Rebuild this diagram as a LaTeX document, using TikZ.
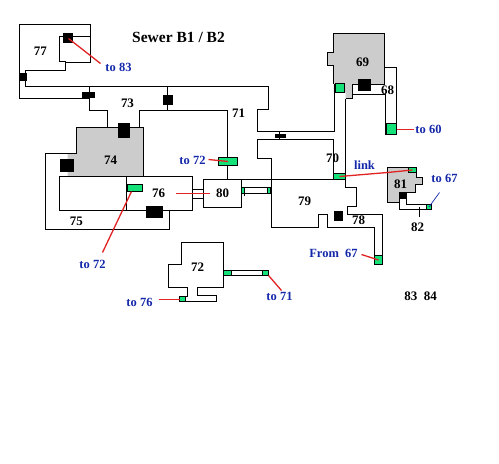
\documentclass[tikz,border=0pt]{standalone}
\usepackage{fontspec}
\setmainfont{Liberation Serif}
\usepackage{tikz}
\usetikzlibrary{calc}
\definecolor{doorgreen}{RGB}{20,225,120}
\definecolor{roomgrey}{RGB}{204,204,204}
\definecolor{labelblue}{RGB}{20,40,170}
\definecolor{leadred}{RGB}{225,35,35}
\tikzset{
  wall/.style={line width=1pt,black,line join=miter},
  greyroom/.style={fill=roomgrey,draw=none},
  gate/.style={fill=doorgreen,draw=black,line width=0.5pt},
  hatchway/.style={fill=black,draw=none},
  leader/.style={leadred,line width=1.3pt},
  roomnum/.style={inner sep=0pt,font=\fontsize{13}{13}\selectfont\bfseries},
  tolabel/.style={inner sep=0pt,text=labelblue,font=\fontsize{12.5}{13}\selectfont\bfseries},
}
\begin{document}
\begin{tikzpicture}[x=1pt,y=-1pt,shift={(0.5,0.5)}]
  \useasboundingbox (-0.5,-0.5) rectangle (498.5,463.5);
  % grey rooms
  \fill[greyroom] (76,127) -- (143,127) -- (143,176) -- (67,176) -- (67,153) -- (76,153) -- cycle;
  \fill[greyroom] (333,33) -- (384,33) -- (384,84) -- (352,84) -- (352,98) -- (345,98) -- (345,92) -- (333,92) -- (333,65) -- (327,65) -- (327,52) -- (333,52) -- cycle;
  \fill[greyroom] (387,167) -- (416,167) -- (416,177) -- (422,177) -- (422,184) -- (415,184) -- (415,192) -- (399,192) -- (399,202) -- (387,202) -- cycle;
  % 77, corridor and 73
  \draw[wall] (19,98) -- (19,24) -- (90,24) -- (90,62) -- (65,62) -- (65,70) -- (25,70) -- (25,86) -- (268,86) -- (268,109) -- (257,109) -- (257,131) -- (334,131) -- (334,83);
  \draw[wall] (90,36) -- (59,36) -- (59,61) -- (65,61);
  \draw[wall] (19,98) -- (89,98);
  \draw[wall] (89,86) -- (89,110) -- (107,110) -- (107,127);
  \draw[wall] (139,127) -- (139,110) -- (227,110) -- (227,179);
  \draw[wall] (167,86) -- (167,110);
  % 74, 75, 76
  \draw[wall] (143,176) -- (143,127) -- (76,127) -- (76,153) -- (45,153) -- (45,229) -- (169,229) -- (169,210);
  \draw[wall] (59,176) rectangle (192,210);
  \draw[wall] (126,176) -- (126,210);
  % 80 and its corridors
  \draw[wall] (203,179) rectangle (241,207);
  \draw[wall] (192,189) -- (203,189);
  \draw[wall] (192,198) -- (203,198);
  \draw[wall] (241,179) -- (333,179);
  \draw[wall] (241,187) -- (271,187);
  \draw[wall] (241,193) -- (271,193);
  \draw[wall] (244,187) -- (244,195);
  % 70, 79, 78
  \draw[wall] (333,173) -- (333,139) -- (257,139) -- (257,158) -- (271,158) -- (271,227) -- (318,227) -- (318,214) -- (327,214) -- (327,227) -- (374,227) -- (374,264) -- (382,264) -- (382,214) -- (347,214) -- (347,206) -- (356,206) -- (356,187) -- (345,187) -- (345,98);
  \draw[wall] (279,131) -- (279,139);
  % 69, 68
  \draw[wall] (333,83) -- (333,65) -- (327,65) -- (327,52) -- (333,52) -- (333,33) -- (384,33) -- (384,84) -- (352,84) -- (352,94) -- (385,94);
  \draw[wall] (345,98) -- (352,98) -- (352,94);
  \draw[wall] (384,67) -- (396,67) -- (396,134) -- (385,134) -- (385,94);
  % 81, 82
  \draw[wall] (399,202) -- (387,202) -- (387,167) -- (416,167) -- (416,177) -- (422,177) -- (422,184) -- (415,184) -- (415,192) -- (399,192) -- (399,209) -- (431,209);
  \draw[wall] (406,192) -- (406,204) -- (431,204);
  \draw[line width=0.7pt] (419,206) -- (419,216);
  % 72
  \draw[wall] (181,242) -- (223,242) -- (223,287) -- (197,287) -- (197,295) -- (216,295) -- (216,301) -- (179,301) -- (179,296) -- (187,296) -- (187,287) -- (168,287) -- (168,264) -- (181,264) -- cycle;
  \draw[wall] (223,270) rectangle (268,275);
  % black hatchways
  \foreach \xa/\ya/\xb/\yb in {62/32/72/42,19/72/26/80,81/91/94/97,162/94/172/104,117/122/129/137,59/158/73/171,145/205/162/217,274/133/285/137,357/78/370/90,333/210/342/220,399/192/406/198}{
    \fill[hatchway] (\xa,\ya) rectangle (\xb,\yb);
  }
  % green gates
  \foreach \name/\xa/\ya/\xb/\yb in {gateA/127/184/142/191,gateB/218/157/237/165,gateC/241/187/244/193,gateD/267/187/270/193,gateE/333/173/345/179,gateF/335/83/344/92,gateG/386/123/396/134,gateH/408/167/416/172,gateI/426/204/431/209,gateJ/374/255/382/264,gateK/223/270/231/275,gateL/262/270/268/275,gateM/179/296/185/301}{
    \filldraw[gate] (\xa,\ya) rectangle (\xb,\yb);
    \coordinate (\name) at ($(\xa,\ya)!0.5!(\xb,\yb)$);
  }
  % room numbers
  \node[roomnum] (n77) at (40,51) {77};
  \node[roomnum] (n73) at (127,103) {73};
  \node[roomnum] (n71) at (238,113) {71};
  \node[roomnum] (n74) at (110,160) {74};
  \node[roomnum] (n76) at (158,193) {76};
  \node[roomnum] (n80) at (222,193) {80};
  \node[roomnum] (n75) at (76,221) {75};
  \node[roomnum] (n72) at (197,267) {72};
  \node[roomnum] (n69) at (362,62) {69};
  \node[roomnum] (n68) at (387,90) {68};
  \node[roomnum] (n70) at (332,158) {70};
  \node[roomnum] (n79) at (304,201) {79};
  \node[roomnum] (n78) at (358,220) {78};
  \node[roomnum] (n81) at (400,184) {81};
  \node[roomnum] (n82) at (417,227) {82};
  \node[roomnum] (n8384) at (420,296) {83\ \ 84};
  \node[inner sep=0pt,font=\fontsize{15.5}{16}\selectfont\bfseries] (title) at (178,37) {Sewer B1 / B2};
  % blue labels
  \node[tolabel] (to83) at (118,67) {to 83};
  \node[tolabel] (to60) at (428,129) {to 60};
  \node[tolabel] (toS72) at (192,160) {to 72};
  \node[tolabel] (link) at (364,165) {link};
  \node[tolabel] (to67) at (444,178) {to 67};
  \node[tolabel] (from67) at (333,253) {From\ \ 67};
  \node[tolabel] (toW72) at (92,264) {to 72};
  \node[tolabel] (to76) at (139,302) {to 76};
  \node[tolabel] (to71) at (279,296) {to 71};
  % leaders
  \coordinate (h77) at (68,38);
  \coordinate (w83) at (100,63);
  \coordinate (w60) at (413,129);
  \coordinate (e60) at (396,129);
  \coordinate (w72a) at (208,159);
  \coordinate (e72a) at (131,191);
  \coordinate (w72b) at (102,252);
  \coordinate (w76a) at (175,193);
  \coordinate (w80a) at (209,193);
  \coordinate (w67a) at (439,192);
  \coordinate (wf67) at (361,254);
  \coordinate (w76b) at (158,299);
  \coordinate (e76b) at (179,299);
  \coordinate (w71) at (281,290);
  \coordinate (e71) at (268,275);
  \coordinate (linkmid) at (387,172);
  \draw[leader] (h77) -- (w83);
  \draw[leader] (e60) -- (w60);
  \draw[leader] (w72a) -- (gateB);
  \draw[leader] (e72a) -- (w72b);
  \draw[leader] (w76a) -- (w80a);
  \draw[leader] (gateE) -- (linkmid) -- (gateH);
  \draw[labelblue,line width=0.7pt] (gateI) -- (w67a);
  \draw[leader] (wf67) -- (gateJ);
  \draw[leader] (w76b) -- (e76b);
  \draw[leader] (e71) -- (w71);
\end{tikzpicture}
\end{document}
